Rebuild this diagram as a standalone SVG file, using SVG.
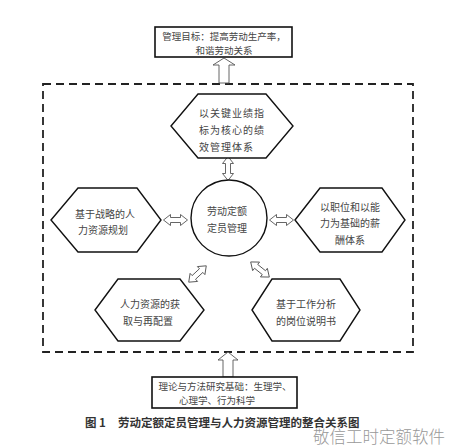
<svg xmlns="http://www.w3.org/2000/svg" xmlns:xlink="http://www.w3.org/1999/xlink" width="461" height="448" viewBox="0 0 461 448">
<style>
.t{font-family:"Noto Sans CJK SC","Noto Sans",sans-serif;font-size:10px;fill:#444;text-anchor:middle;dominant-baseline:central}
.s{font-size:9.5px}
.hex{fill:#fff;stroke:#111;stroke-width:1.4}
.box{fill:#fff;stroke:#111;stroke-width:1.6}
.arr{fill:#fff;stroke:#555;stroke-width:0.9}
.dash{fill:none;stroke:#222;stroke-width:1.8;stroke-dasharray:8 5}
</style>
<defs>
<path id="darr" d="M-12,0 L-5,-5.5 L-5,-2.5 L5,-2.5 L5,-5.5 L12,0 L5,5.5 L5,2.5 L-5,2.5 L-5,5.5 Z"/>
</defs>
<rect width="461" height="448" fill="#fff"/>
<g id="connectors">
<rect class="dash" x="43" y="84" width="370" height="268"/>
<path class="arr" d="M224,58 L235,65 L229,65 L229,83 L219,83 L219,65 L213,65 Z"/>
<path class="arr" d="M228,352 L238,360 L233,360 L233,377 L223,377 L223,360 L218,360 Z"/>
<use href="#darr" class="arr" transform="translate(228,168.5) rotate(90)"/>
<use href="#darr" class="arr" transform="translate(175.5,220)"/>
<use href="#darr" class="arr" transform="translate(281.5,220)"/>
<use href="#darr" class="arr" transform="translate(197.5,274) rotate(-43)"/>
<use href="#darr" class="arr" transform="translate(260,269.5) rotate(39)"/>
</g>
<g id="goal">
<rect class="box" x="155" y="27" width="137" height="30"/>
<text class="t s" x="224" y="36">管理目标：提高劳动生产率，</text>
<text class="t s" x="224" y="50">和谐劳动关系</text>
</g>
<g id="kpi">
<polygon class="hex" points="171,126 198,94 266,94 293,126 266,158 198,158"/>
<text class="t" x="199" y="112" style="letter-spacing:1px;text-anchor:start">以关键业绩指</text>
<text class="t" x="199" y="129" style="letter-spacing:1px;text-anchor:start">标为核心的绩</text>
<text class="t" x="199" y="146" style="letter-spacing:1px;text-anchor:start">效管理体系</text>
</g>
<g id="core">
<circle cx="229" cy="218" r="38" fill="#fff" stroke="#111" stroke-width="1.4"/>
<text class="t" x="227" y="210">劳动定额</text>
<text class="t" x="227" y="227">定员管理</text>
</g>
<g id="planning">
<polygon class="hex" points="51,220 78,188 137,188 161,220 137,252 78,252"/>
<text class="t" x="105" y="213">基于战略的人</text>
<text class="t" x="103" y="229">力资源规划</text>
</g>
<g id="pay">
<polygon class="hex" points="295,220 320,188 382,188 405,220 382,252 320,252"/>
<text class="t" x="350" y="206">以职位和以能</text>
<text class="t" x="350" y="222">力为基础的薪</text>
<text class="t" x="350" y="239">酬体系</text>
</g>
<g id="acquire">
<polygon class="hex" points="95,310 118,279 180,279 204,310 180,341 118,341"/>
<text class="t" x="150" y="303">人力资源的获</text>
<text class="t" x="148" y="320">取与再配置</text>
</g>
<g id="jobdesc">
<polygon class="hex" points="252,310 272,279 340,279 360,310 340,341 272,341"/>
<text class="t" x="306" y="303">基于工作分析</text>
<text class="t" x="306" y="320">的岗位说明书</text>
</g>
<g id="theory">
<rect class="box" x="152" y="377" width="145" height="31"/>
<text class="t s" x="225" y="386">理论与方法研究基础：生理学、</text>
<text class="t s" x="217" y="400">心理学、行为科学</text>
</g>
<text x="85" y="427" style="font-family:'Noto Sans CJK SC',sans-serif;font-size:11.5px;font-weight:bold;fill:#333">图 1</text>
<text x="118" y="427" style="font-family:'Noto Sans CJK SC',sans-serif;font-size:11.5px;font-weight:bold;fill:#333">劳动定额定员管理与人力资源管理的整合关系图</text>
<text x="313" y="443" style="font-family:'Noto Sans CJK SC',sans-serif;font-size:16.5px;font-weight:300;fill:#999">敬信工时定额软件</text>
</svg>
